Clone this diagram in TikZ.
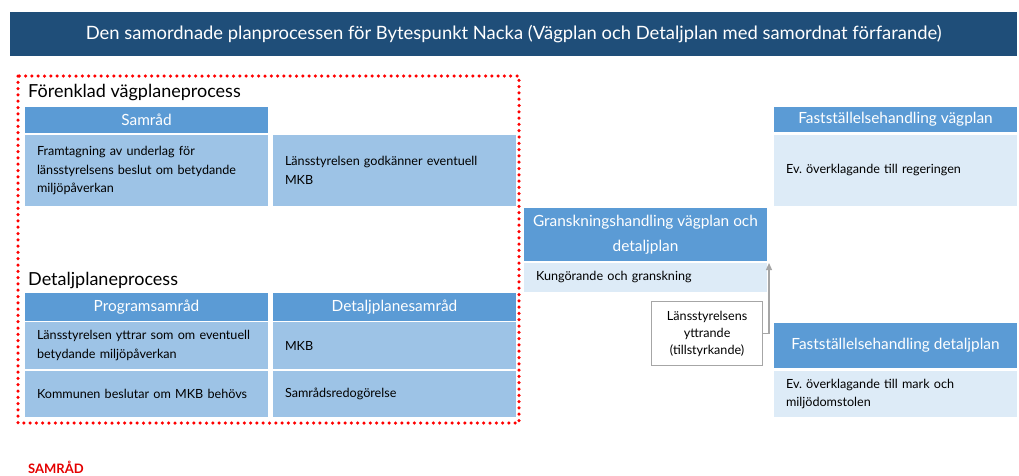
\documentclass[tikz,border=0pt]{standalone}
\usepackage{fontspec}
\setmainfont{Lato}
\usepackage{tikz}
\definecolor{titleblue}{RGB}{31,78,121}
\definecolor{headblue}{RGB}{91,155,213}
\definecolor{cellblue}{RGB}{157,195,230}
\definecolor{paleblue}{RGB}{221,235,247}
\definecolor{samradred}{RGB}{228,0,0}
\usetikzlibrary{
  arrows.meta,
  positioning,
}
\tikzset{
  >={Triangle[width=6pt, length=7pt]},
}

\begin{document}
\begin{tikzpicture}[x=1pt, y=-1pt,
    titlebar/.style={fill=titleblue, text=white, font=\fontsize{18.4}{22}\selectfont,
                     minimum width=1007pt, minimum height=44pt, anchor=north west},
    secthead/.style={font=\fontsize{18}{21}\selectfont, inner sep=0pt, anchor=base west},
    head/.style={fill=headblue, text=white, font=\fontsize{15.4}{25}\selectfont, align=center,
                 minimum width=243pt, minimum height=#1, inner sep=0pt, outer sep=0pt,
                 anchor=north west},
    cell/.style={fill=cellblue, font=\fontsize{12.6}{18.5}\selectfont, text width=219pt,
                 align=left, inner xsep=12pt, inner ysep=0pt, minimum height=#1,
                 outer sep=0pt, anchor=north west},
    pale/.style={cell=#1, fill=paleblue},
    note/.style={draw=gray!70, line width=1.2pt, fill=white, align=center,
                 font=\fontsize{12.6}{17}\selectfont, minimum width=111pt,
                 minimum height=64pt, inner sep=0pt, anchor=north west},
    reddots/.style={draw=red, line width=3.5pt, dash pattern=on 0pt off 6.3pt,
                    line cap=round}]
  \useasboundingbox (0,0) rectangle (1019,475);

  \node [titlebar] (title) at (10,12)
        {Den samordnade planprocessen för Bytespunkt Nacka (Vägplan och Detaljplan med samordnat förfarande)};

  % samordnat förfarande, left part
  \draw [reddots] (18,76) rectangle (519,423);

  \node [secthead] (vpproc) at (28,97) {Förenklad vägplaneprocess};
  \node [head=26pt] (samrad) at (25,107) {Samråd};
  \node [cell=71pt, below=2pt of samrad] (underlag)
        {Framtagning av underlag för\\länsstyrelsens beslut om betydande\\miljöpåverkan};
  \node [cell=71pt, right=5pt of underlag] (godkann)
        {Länsstyrelsen godkänner eventuell\\MKB};

  \node [secthead] (dpproc) at (28,285) {Detaljplaneprocess};
  \node [head=28pt] (progsam) at (25,293) {Programsamråd};
  \node [head=28pt, right=5pt of progsam] (dpsam) {Detaljplanesamråd};
  \node [cell=47pt, below=1pt of progsam] (yttrar)
        {Länsstyrelsen yttrar som om eventuell\\betydande miljöpåverkan};
  \node [cell=47pt, below=1pt of dpsam] (mkb) {MKB};
  \node [cell=46pt, below=2pt of yttrar] (beslutar) {Kommunen beslutar om MKB behövs};
  \node [cell=46pt, below=2pt of mkb] (redog) {Samrådsredogörelse};

  \node [font=\fontsize{13}{15}\selectfont\bfseries, text=samradred, inner sep=0pt,
         anchor=base west] (samradtag) at (28,473) {SAMRÅD};

  % granskning
  \node [head=53pt] (gransk) at (524,208) {Granskningshandling vägplan och\\detaljplan};
  \node [pale=29pt, below=2pt of gransk] (kungor) {Kungörande och granskning};
  \node [note] (yttrande) at (651,301) {Länsstyrelsens\\yttrande\\(tillstyrkande)};
  \draw [->, gray!70, line width=1.2pt] (yttrande.east)
        -| ([xshift=2pt]kungor.north east);

  % fastställelse
  \node [head=25pt] (fastv) at (774,107) {Fastställelsehandling vägplan};
  \node [pale=71pt, below=3pt of fastv] (regering) {Ev.\ överklagande till regeringen};
  \node [head=45pt] (fastd) at (774,323) {Fastställelsehandling detaljplan};
  \node [pale=46pt, below=3pt of fastd] (markmiljo)
        {Ev.\ överklagande till mark och\\miljödomstolen};
\end{tikzpicture}
\end{document}
